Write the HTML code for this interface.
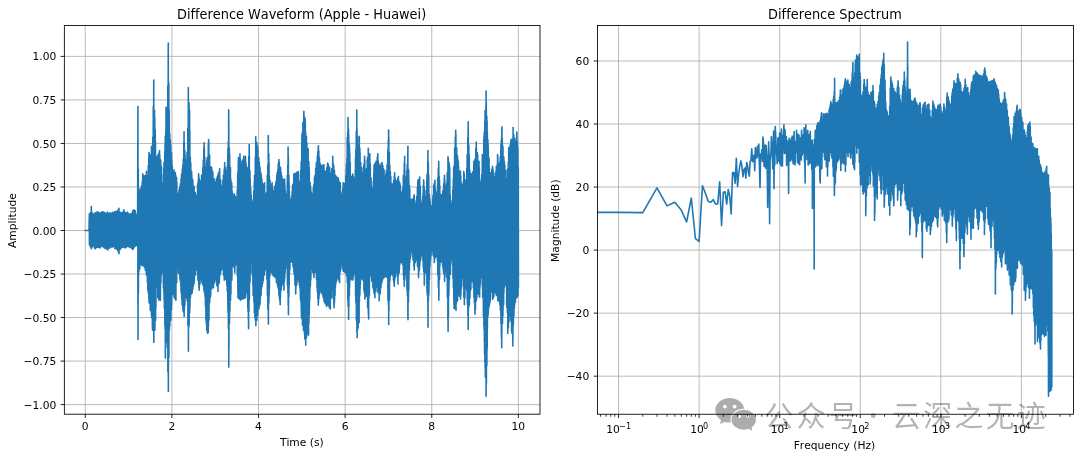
<!DOCTYPE html>
<html lang="zh"><head><meta charset="utf-8"><title>Difference Waveform / Spectrum</title><style>html,body{margin:0;padding:0;background:#fff}body{width:1080px;height:459px;overflow:hidden}</style></head><body>
<svg width="1080" height="459" viewBox="0 0 1080 459" style="display:block;will-change:transform">
<rect width="1080" height="459" fill="#fff"/>
<defs><clipPath id="c1"><rect x="64.35" y="25.5" width="475.65" height="388.70"/></clipPath><clipPath id="c2"><rect x="597.5" y="25.5" width="476.00" height="388.75"/></clipPath></defs>
<path d="M85.28 25.5V414.2M171.9 25.5V414.2M258.52 25.5V414.2M345.14 25.5V414.2M431.76 25.5V414.2M518.38 25.5V414.2M64.35 404.6H540M64.35 361.07H540M64.35 317.55H540M64.35 274.02H540M64.35 230.5H540M64.35 186.97H540M64.35 143.45H540M64.35 99.93H540M64.35 56.4H540" stroke="#b0b0b0" stroke-width="0.86" fill="none"/>
<path clip-path="url(#c1)" d="M85.28 230.5L89 230.5L89.3 216.66L89.4 241.73L89.32 213.96L89.42 245.05L89.8 215.24L89.9 243.65L90.3 213.04L90.4 244.92L90.33 212.71L90.43 247.06L90.8 212.45L90.9 247.11L91.3 206.62L91.4 248.5L91.33 206.44L91.43 248.81L91.8 212L91.9 247.77L92.3 213.9L92.4 246.33L92.33 213.21L92.43 246.13L92.58 213.57L92.68 246.3L92.8 213.48L92.9 245.52L93.3 213.86L93.4 244.42L93.8 213.95L93.9 245.85L94.3 214.01L94.4 247.86L94.8 215.58L94.9 247.33L95.09 212.71L95.19 248.81L95.3 214.03L95.4 248.64L95.8 215.27L95.9 245.7L96.3 212.51L96.4 247.41L96.8 212.21L96.9 247.38L97.3 213.25L97.4 247.17L97.59 211.7L97.69 247.06L97.8 211.81L97.9 246.3L98.3 213.08L98.4 247.33L98.8 213.12L98.9 245.89L99.3 214.93L99.4 247.38L99.8 214.02L99.9 246.01L100.1 212.71L100.2 248.06L100.3 213.63L100.4 246.84L100.8 212.78L100.9 246.79L101.3 212.23L101.4 245.84L101.8 212.28L101.9 244.43L102.3 213.55L102.4 244.89L102.61 211.7L102.71 246.55L102.8 212.45L102.9 245.82L103.3 211.98L103.4 246.88L103.8 214.4L103.9 247.54L104.3 212.56L104.4 247.84L104.8 212.98L104.9 248.17L105.11 212.71L105.21 248.81L105.3 213.71L105.4 247.01L105.8 214.81L105.9 246.8L106.3 213.95L106.4 247.64L106.8 214.22L106.9 249.11L107.3 212.35L107.4 249.14L107.62 212.21L107.72 250.06L107.8 213.33L107.9 249.39L108.3 214.82L108.4 248.56L108.8 213.3L108.9 246.89L109.3 214.18L109.4 248.32L109.8 213.12L109.9 247.48L110.13 213.21L110.23 247.56L110.3 213.65L110.4 246.01L110.8 213.1L110.9 246.02L111.3 214.83L111.4 245.66L111.8 213.21L111.9 247.13L112.3 215.15L112.4 246.92L112.63 212.21L112.73 247.06L112.8 213.55L112.9 246.77L113.3 213.57L113.4 245.73L113.8 213.62L113.9 245.12L114.3 212.05L114.4 246.62L114.8 212.65L114.9 248.56L115.14 211.7L115.24 248.81L115.3 212.41L115.4 246.79L115.8 211.53L115.9 246.56L116.3 214.17L116.4 248.14L116.8 211.35L116.9 249.21L117.14 212.63L117.24 250.06L117.3 211.36L117.4 248.79L117.64 210.7L117.74 248.48L117.8 212.12L117.9 250.8L118.3 209.55L118.4 252.25L118.8 211.14L118.9 253.61L118.9 208.2L119 253.82L119.3 212.37L119.4 249.69L119.8 212.42L119.9 249.15L120.15 212.21L120.25 249.56L120.3 212.49L120.4 249.36L120.8 214.96L120.9 248.26L121.3 213.68L121.4 246.38L121.8 212.84L121.9 246.41L122.16 212.71L122.26 247.51L122.3 213.94L122.4 246.72L122.66 213.13L122.76 247.06L122.8 212.3L122.9 245.6L123.3 211.58L123.4 246.5L123.8 210.27L123.9 247.29L123.91 209.7L124.01 244.97L124.3 213.01L124.4 246.83L124.8 212.21L124.9 246.22L125.16 213.06L125.26 248.06L125.3 212.62L125.4 247.9L125.66 212.71L125.76 247.39L125.8 212.68L125.9 247.57L126.3 213.2L126.4 247.04L126.8 212.44L126.9 246.68L127.3 212.42L127.4 245.87L127.67 212.21L127.77 246.3L127.8 213.85L127.9 245.81L128.3 213.45L128.4 244.71L128.8 214.06L128.9 246.86L129.3 215.58L129.4 247.03L129.8 214.24L129.9 245.41L130.18 213.96L130.28 247.56L130.3 215.31L130.4 246.86L130.8 213.74L130.9 247.67L131.3 213.58L131.4 247.31L131.8 213.85L131.9 248.55L132.3 213.88L132.4 246.87L132.68 210.7L132.78 249.56L132.8 213.48L132.9 248.86L133.3 210.21L133.4 248.75L133.8 211.97L133.9 245.75L133.93 209.7L134.03 247.48L134.3 210.16L134.4 246.01L134.8 211.26L134.9 244.73L135.19 210.7L135.29 246.3L135.3 211.07L135.4 244.22L135.8 214.08L135.9 245.09L136.3 216.1L136.4 243.76L136.44 214.71L136.54 245.55L136.8 216.03L136.9 245.49L137.3 214.35L137.4 245.36L137.44 213.96L137.54 246.3L137.8 140.77L137.9 303.77L137.94 106.44L138.04 339.54L138.3 168.72L138.4 293.36L138.45 191.4L138.55 275.13L138.8 193.65L138.9 271.73L139.3 191.46L139.4 268.82L139.7 190.54L139.8 268.86L139.8 195.57L139.9 263.07L140.2 188.9L140.3 262.11L140.3 195.19L140.4 263.87L140.8 190.23L140.9 263.29L141.3 189.34L141.4 264.64L141.45 186.39L141.55 265.1L141.8 187.8L141.9 265.27L142.3 181.65L142.4 261.26L142.71 173.86L142.81 264.91L142.8 181.43L142.9 265.65L143.3 177.06L143.4 265.02L143.8 183.23L143.9 265.22L143.96 175.81L144.06 266.35L144.3 178.59L144.4 267.37L144.46 176.37L144.56 267.2L144.8 183.68L144.9 263.66L145.21 175.61L145.31 270.11L145.3 180.78L145.4 267.27L145.8 178.14L145.9 269.66L146.3 177.47L146.4 273.72L146.47 171.35L146.57 275.13L146.8 181.55L146.9 273.97L147.3 176.4L147.4 281.92L147.72 176.37L147.82 290.16L147.8 175.65L147.9 290L148.3 165.45L148.4 293.52L148.8 157.01L148.9 298.82L148.97 152.56L149.07 302.69L149.3 162.73L149.4 301.59L149.8 154.67L149.9 303.95L150.23 155.06L150.33 310.21L150.3 158.57L150.4 307.6L150.8 156.87L150.9 311.11L151.3 154.65L151.4 313.47L151.48 146.29L151.58 317.73L151.8 157.63L151.9 316.63L152.3 146.68L152.4 326.63L152.48 148.38L152.58 330.26L152.73 140.03L152.83 326.71L152.8 137.14L152.9 328.28L153.3 106.38L153.4 327.9L153.73 80.13L153.83 342.54L153.8 98.54L153.9 327.81L154.3 117.8L154.4 323.33L154.49 110.2L154.59 324.33L154.74 117.41L154.84 330.26L154.8 134.02L154.9 328.44L155.24 129.75L155.34 314.87L155.3 144.36L155.4 320.86L155.49 141.78L155.59 320.24L155.8 156.05L155.9 308.05L156.3 156.63L156.4 287.44L156.49 161.33L156.59 282.64L156.8 160.07L156.9 281.59L157.3 159.43L157.4 285.95L157.74 157.58L157.84 297.68L157.8 156.84L157.9 297.29L157.99 155.06L158.09 292.62L158.3 154.24L158.4 290.41L158.8 158.3L158.9 299.72L159 152.9L159.1 300.19L159.3 158.23L159.4 298.64L159.5 150.55L159.6 296.69L159.8 154.99L159.9 299.39L160.25 167.06L160.35 300.19L160.3 161.31L160.4 296.74L160.75 160.08L160.85 282.81L160.8 166.53L160.9 282.99L161.25 170.08L161.35 275.13L161.3 166.43L161.4 273.62L161.5 167.59L161.6 267.76L161.8 174.48L161.9 263.87L162.26 190.13L162.36 261.34L162.3 192.62L162.4 262.41L162.76 196.42L162.86 268.02L162.8 195.32L162.9 272.47L163.26 184.38L163.36 287.66L163.3 183.15L163.4 285.71L163.8 168.63L163.9 292.74L164.01 162.58L164.11 300.19L164.3 165.82L164.4 308.29L164.76 151.7L164.86 325.25L164.8 159.24L164.9 324.33L165.01 145.04L165.11 329.39L165.26 136.28L165.36 358.08L165.3 144.53L165.4 357.25L165.8 130.59L165.9 342.43L166.02 107.19L166.12 342.53L166.3 115.87L166.4 338.88L166.77 117.54L166.87 330.26L166.8 116.87L166.9 329.03L167.27 107.69L167.37 343.07L167.3 116.38L167.4 347.78L167.8 86.02L167.9 372L168.27 43.03L168.37 391.42L168.3 66.37L168.4 366.58L168.8 83.05L168.9 357.47L169.27 110.2L169.37 330.26L169.3 126.86L169.4 326.45L169.77 134.01L169.87 325.87L169.8 135.29L169.9 318.46L170.3 139.85L170.4 313.14L170.78 145.04L170.88 320.24L170.8 146.62L170.9 311.85L171.3 155.7L171.4 309.75L171.53 152.56L171.63 305.2L171.8 159.65L171.9 295.69L172.28 165.93L172.38 290.16L172.3 168.13L172.4 287.95L172.78 172.61L172.88 289.33L172.8 172.87L172.9 284.76L173.3 173.78L173.4 294.49L173.8 171.04L173.9 295.2L174.04 170.1L174.14 297.68L174.3 177.88L174.4 287.37L174.8 173.81L174.9 297.59L175.29 172.61L175.39 299.36L175.3 176.32L175.4 296.52L175.79 175.5L175.89 300.19L175.8 175.75L175.9 299.27L176.3 178.29L176.4 281.16L176.54 177.62L176.64 282.64L176.8 182.2L176.9 272.64L177.29 194.59L177.39 266.35L177.3 193.33L177.4 261.63L177.79 198.92L177.89 268.31L177.8 198.99L177.9 265.05L178.3 199.13L178.4 266.36L178.55 193.94L178.65 272.62L178.8 192.18L178.9 273.69L179.05 190.15L179.15 271.92L179.3 189.04L179.4 273.8L179.8 192.48L179.9 278.88L179.8 187.37L179.9 273.54L180.3 185.15L180.4 281.67L180.3 183.88L180.4 281.38L180.8 183.84L180.9 286.66L181.05 178.55L181.15 292.67L181.3 178.4L181.4 293.06L181.55 173.86L181.65 298.23L181.8 174.28L181.9 300.18L182.06 176.12L182.16 305.2L182.3 168.93L182.4 305.22L182.8 171.62L182.9 301.06L182.81 165.09L182.91 309.41L183.06 167.08L183.16 311.47L183.3 158.93L183.4 307.66L183.8 141.99L183.9 312.81L184.06 131.75L184.16 316.48L184.3 142.9L184.4 309.87L184.8 157.56L184.9 301.12L184.81 150.32L184.91 305.2L185.06 155.06L185.16 289.5L185.3 162.03L185.4 287.26L185.31 165.12L185.41 295.18L185.8 171.68L185.9 293.19L185.81 162.58L185.91 293.6L186.3 159.61L186.4 296.39L186.32 166.8L186.42 297.68L186.8 160.97L186.9 299.1L187.07 152.56L187.17 300.19L187.3 154.85L187.4 301.26L187.8 131.5L187.9 317.78L187.82 128.09L187.92 325.25L188.3 104.26L188.4 332.86L188.32 87.64L188.42 351.32L188.8 107.3L188.9 327.03L189.07 102.82L189.17 325.25L189.3 118.53L189.4 307.91L189.57 110.2L189.67 313.12L189.8 134.84L189.9 305.2L189.82 130.95L189.92 307.71L190.3 158.72L190.4 288.25L190.33 157.57L190.43 297.68L190.8 162.85L190.9 288.4L191.3 176.01L191.4 293.74L191.58 171.35L191.68 294.04L191.8 175.12L191.9 290.41L192.08 178.47L192.18 292.67L192.3 181.71L192.4 282.37L192.8 181.81L192.9 289.06L192.83 180.13L192.93 287.17L193.3 189.24L193.4 285.75L193.8 186.72L193.9 284.06L194.09 186.39L194.19 282.64L194.3 192.03L194.4 281.18L194.8 196.38L194.9 271.82L195.3 192.81L195.4 271.26L195.34 192.66L195.44 275.13L195.8 198.82L195.9 267.99L196.3 201.31L196.4 266.64L196.59 197.67L196.69 270.11L196.8 195.22L196.9 266.63L197.3 195.36L197.4 269.29L197.59 185.14L197.69 274.41L197.8 183.39L197.9 278.14L197.84 185.68L197.94 280.14L198.3 179.74L198.4 275.98L198.6 173.86L198.7 284.33L198.8 175.87L198.9 287.55L199.1 184.48L199.2 290.16L199.3 179.1L199.4 283.45L199.6 180.13L199.7 284.99L199.8 181.6L199.9 280.64L199.85 184.33L199.95 283.9L200.3 184.84L200.4 274.43L200.35 185.14L200.45 279.76L200.8 182.91L200.9 278.47L200.85 185.95L200.95 278.88L201.3 180.15L201.4 278.96L201.6 175.11L201.7 273.64L201.8 182.92L201.9 281.59L201.85 181.24L201.95 282.64L202.3 179.3L202.4 275.59L202.8 169.16L202.9 285L202.86 167.59L202.96 285.15L203.3 160.07L203.4 280.59L203.8 149.5L203.9 289.58L203.86 147.82L203.96 290.16L204.11 142.78L204.21 284.26L204.3 147.12L204.4 292.37L204.8 157.32L204.9 291.26L204.86 166.97L204.96 296.43L205.3 169.8L205.4 299.77L205.36 167.59L205.46 306.22L205.8 171.12L205.9 315.34L205.86 166.52L205.96 320.24L206.3 167.05L206.4 323.63L206.62 162.99L206.72 330.26L206.8 164.57L206.9 317.17L206.87 160.08L206.97 317.79L207.3 159.75L207.4 329.45L207.37 157.24L207.47 333.27L207.8 158.3L207.9 327.35L208.12 156.51L208.22 332.77L208.3 144.35L208.4 326.49L208.62 139.52L208.72 310.17L208.8 142.83L208.9 318.54L208.87 156.92L208.97 320.24L209.3 161.8L209.4 298.53L209.62 155.06L209.72 302.69L209.8 168.83L209.9 293.12L210.3 166.19L210.4 297.21L210.38 166.34L210.48 290.37L210.63 170.18L210.73 295.18L210.8 175.69L210.9 286.29L211.3 167.35L211.4 281.65L211.63 167.59L211.73 288.91L211.8 172.9L211.9 279.78L212.3 170.44L212.4 287.07L212.8 173.35L212.9 284.6L212.88 172.61L212.98 287.1L213.3 182.08L213.4 287.5L213.38 181L213.48 287.66L213.8 183.63L213.9 280.19L214.14 178.87L214.24 278.03L214.3 184.24L214.4 283.06L214.39 186L214.49 282.64L214.8 185.33L214.9 280.1L215.3 187.23L215.4 277.99L215.39 182.63L215.49 278.88L215.8 181.63L215.9 274.12L216.3 184.61L216.4 278.09L216.39 178.87L216.49 282.26L216.64 185.62L216.74 285.15L216.8 181.73L216.9 279.18L217.3 178.23L217.4 286.46L217.39 176.37L217.49 282.16L217.8 175.69L217.9 284.25L217.89 178.15L217.99 291.42L218.3 173.9L218.4 280.69L218.65 172.61L218.75 284.03L218.8 176.11L218.9 279.41L219.15 177.62L219.25 282.64L219.3 171.6L219.4 280.02L219.65 168.85L219.75 276.12L219.8 176.2L219.9 274.49L220.3 180.66L220.4 271.81L220.4 185.19L220.5 273.87L220.65 180.13L220.75 266.23L220.8 183.7L220.9 266.01L221.3 190.65L221.4 270.45L221.4 192.88L221.5 270.11L221.65 190.15L221.75 267.07L221.8 192.62L221.9 268.85L222.3 185.68L222.4 263.43L222.41 187.18L222.51 267.61L222.8 186.33L222.9 266.7L222.91 180.13L223.01 266.45L223.3 181.59L223.4 271.54L223.41 175.13L223.51 275.13L223.8 180.1L223.9 272.1L224.16 170.82L224.26 280.14L224.3 168.89L224.4 273.09L224.66 162.58L224.76 278.41L224.8 167.67L224.9 273.9L225.16 172.75L225.26 278.88L225.3 167.62L225.4 277.25L225.66 170.1L225.76 276.85L225.8 174.76L225.9 277.39L226.17 180.94L226.27 278.88L226.3 173.35L226.4 279.51L226.67 175.11L226.77 282.87L226.8 177.72L226.9 285.71L227.17 171.71L227.27 290.16L227.3 165.82L227.4 291.29L227.67 160.08L227.77 300.08L227.8 154.79L227.9 307.22L227.92 148.63L228.02 312.72L228.3 141.83L228.4 328.74L228.67 109.7L228.77 367.11L228.8 121.14L228.9 349.63L229.3 147.74L229.4 323.66L229.42 151.98L229.52 320.24L229.67 155.06L229.77 303.7L229.8 165.67L229.9 310.89L230.3 168.8L230.4 298.39L230.43 167.59L230.53 300.19L230.8 179.01L230.9 293.94L231.3 182.76L231.4 277.8L231.68 182.63L231.78 280.14L231.8 185.77L231.9 277.4L232.3 191.62L232.4 266.55L232.8 195.3L232.9 259.46L232.93 195.16L233.03 261.34L233.3 196.14L233.4 258.99L233.8 196.14L233.9 266.61L233.93 197.98L234.03 267.61L234.19 193.91L234.29 265.3L234.3 195.28L234.4 264.49L234.69 199.19L234.79 272.62L234.8 196.47L234.9 268.42L235.3 200.41L235.4 265.09L235.44 196.42L235.54 262.71L235.69 199.24L235.79 262.59L235.8 201.33L235.9 257.38L236.3 200.75L236.4 254.25L236.44 202.56L236.54 256.33L236.69 202.68L236.79 258.03L236.8 201.88L236.9 265.21L237.19 191.67L237.29 275.13L237.3 189.82L237.4 275.92L237.69 175.11L237.79 283.94L237.8 176.77L237.9 291.72L237.94 171.94L238.04 297.68L238.3 161.85L238.4 289.95L238.45 157.57L238.55 298.11L238.8 158.56L238.9 296.83L239.2 159.07L239.3 298.93L239.3 167.43L239.4 290.42L239.8 156.74L239.9 297.99L239.95 153.81L240.05 291.42L240.3 159.12L240.4 298.69L240.45 162.74L240.55 300.19L240.8 170.57L240.9 295.27L240.95 161.33L241.05 293.83L241.3 165.57L241.4 290.25L241.7 165.09L241.8 298.93L241.8 173.38L241.9 297.56L242.3 165.91L242.4 291.89L242.71 160.08L242.81 293.39L242.8 159.95L242.9 296.31L242.96 168.35L243.06 298.93L243.3 159.89L243.4 289.45L243.71 156.32L243.81 294.88L243.8 157.47L243.9 288.9L244.21 160.15L244.31 298.18L244.3 165.91L244.4 297.41L244.71 157.57L244.81 290.77L244.8 161.23L244.9 296.12L245.3 164.55L245.4 292.93L245.46 156.32L245.56 297.68L245.8 161.94L245.9 294.86L246.22 167.43L246.32 292.67L246.3 164.81L246.4 285.81L246.72 167.59L246.82 288.81L246.8 174.02L246.9 287.54L246.97 175.74L247.07 287.66L247.3 171.22L247.4 287.32L247.72 179.32L247.82 307.71L247.8 180.76L247.9 305.45L247.97 175.11L248.07 311.72L248.3 167.22L248.4 319.52L248.47 168.99L248.57 328.76L248.8 156.34L248.9 311.47L249.22 144.54L249.32 300.19L249.3 150.35L249.4 297.43L249.8 170.35L249.9 282.76L249.97 172.47L250.07 280.14L250.23 180.13L250.33 274.01L250.3 184.22L250.4 271.1L250.48 187.56L250.58 272.62L250.75 188.49L250.85 260.04L250.8 194.9L250.9 255.58L251.25 195.24L251.35 253.77L251.3 196.52L251.4 251.47L251.8 199.8L251.9 263.74L252.26 202.48L252.36 275.08L252.3 203.94L252.4 275.15L252.8 208.91L252.9 285.98L253.01 207.77L253.11 295.13L253.3 201.83L253.4 294.13L253.8 190.92L253.9 301.85L254.26 182.07L254.36 312.67L254.3 185.23L254.4 310.71L254.51 175.19L254.61 304.62L254.8 175.46L254.9 317.31L255.3 157.81L255.4 319.98L255.76 136.84L255.86 325.7L255.8 147.1L255.9 323.52L256.3 149.34L256.4 309.18L256.77 142.61L256.87 320.19L256.8 144.6L256.9 317.63L257.3 149.22L257.4 310.63L257.52 146.37L257.62 315.18L257.8 149.59L257.9 304.7L258.3 157.01L258.4 308.2L258.77 157.64L258.87 308.91L258.8 158.45L258.9 298.94L259.3 162.43L259.4 306.28L259.8 166.62L259.9 304.6L260.03 167.67L260.13 303.9L260.3 178.55L260.4 297.56L260.8 172.36L260.9 287.37L261.03 174.4L261.13 295.13L261.28 175.19L261.38 288.7L261.3 178.22L261.4 288.99L261.8 178.86L261.9 283.02L262.03 182.93L262.13 286.35L262.3 182.85L262.4 283.3L262.53 183.96L262.63 283.61L262.8 189.06L262.9 281.75L263.28 184.08L263.38 280.09L263.3 187.13L263.4 276L263.8 185.13L263.9 272.15L264.29 184.92L264.39 275.08L264.3 188.48L264.4 268.92L264.54 182.71L264.64 272.18L264.8 191.76L264.9 266.51L265.29 195.67L265.39 270.06L265.3 193.85L265.4 267.43L265.8 195.41L265.9 262.56L266.29 200.25L266.39 263.8L266.3 202.29L266.4 261.11L266.8 192.19L266.9 279.22L267.29 175.19L267.39 295.13L267.3 183.2L267.4 293.11L267.8 165.23L267.9 309.43L268.3 135.59L268.4 323.95L268.3 138.43L268.4 318.82L268.8 153.81L268.9 303.02L269.05 162.66L269.15 295.13L269.3 175.96L269.4 288.42L269.8 184.44L269.9 276.3L270.05 180.2L270.15 270.06L270.3 184.86L270.4 269.44L270.8 185.55L270.9 269.17L271.3 185.12L271.4 271.91L271.3 189.01L271.4 272.57L271.8 186.04L271.9 271.8L272.06 182.71L272.16 269.18L272.3 187.13L272.4 274.51L272.56 186.23L272.66 275.08L272.8 192.12L272.9 268.25L273.3 195.04L273.4 272.79L273.31 191.48L273.41 274.26L273.8 195.16L273.9 275.49L273.81 194.3L273.91 276.33L274.3 189.95L274.4 275.46L274.8 187.37L274.9 271.43L275.06 186.47L275.16 277.58L275.3 185.41L275.4 273.18L275.8 182.71L275.9 276.17L276.3 180.48L276.4 282.51L276.32 185.38L276.42 282.59L276.8 175.84L276.9 278.65L277.07 172.68L277.17 280.05L277.3 176.3L277.4 284L277.57 176.72L277.67 286.35L277.8 169.83L277.9 287.09L278.3 163.53L278.4 288.75L278.8 167.71L278.9 294.57L278.82 159.65L278.92 295.13L279.3 162.42L279.4 298.48L279.8 171.71L279.9 301.68L280.08 171.3L280.18 304.65L280.3 167.41L280.4 297.38L280.58 167.67L280.68 291.62L280.8 178.01L280.9 287.74L281.08 172.13L281.18 290.11L281.3 177.68L281.4 287.08L281.8 175.73L281.9 278L282.08 183.36L282.18 280.09L282.3 178.78L282.4 280.05L282.58 180.2L282.68 280.09L282.8 180.12L282.9 283.36L283.08 183.19L283.18 285.1L283.3 186.08L283.4 281.82L283.8 179.64L283.9 283.81L283.83 180.59L283.93 290.11L284.3 184.62L284.4 281.53L284.59 178.95L284.69 278.84L284.8 183.36L284.9 273.82L285.09 189.65L285.19 272.57L285.3 191.17L285.4 264.32L285.8 200.67L285.9 263.98L286.3 204.11L286.4 254.21L286.34 204.01L286.44 257.53L286.8 194.03L286.9 268.86L287.3 181.95L287.4 278.62L287.34 175.19L287.44 285.1L287.8 165.29L287.9 292.85L288.1 147.12L288.2 305.37L288.3 157.69L288.4 306.81L288.35 156.53L288.45 314.67L288.8 182.06L288.9 296.44L288.85 175.19L288.95 291.53L289.1 182.59L289.2 285.1L289.3 191.59L289.4 274.33L289.6 195.24L289.7 269.06L289.8 197.73L289.9 269.24L290.1 201.3L290.2 262.54L290.3 199.31L290.4 259.5L290.8 200.29L290.9 261.97L291.1 201.42L291.2 262.04L291.3 201.41L291.4 259.02L291.35 201.5L291.45 260.88L291.8 196.48L291.9 259.74L292.11 192.18L292.21 261.29L292.3 189.3L292.4 259.91L292.61 185.21L292.71 262.49L292.8 184.22L292.9 265.54L293.11 185.76L293.21 267.56L293.3 186.28L293.4 264.02L293.8 175.75L293.9 267.9L293.86 173.93L293.96 272.57L294.3 176.99L294.4 274.73L294.8 173.65L294.9 280.56L294.86 173.84L294.96 285.1L295.3 180.84L295.4 284.19L295.61 176.06L295.71 293.87L295.8 179.61L295.9 288.79L296.3 172.87L296.4 284.91L296.37 172.68L296.47 282.4L296.62 179.99L296.72 285.1L296.8 179.91L296.9 283.69L297.3 172.1L297.4 279.77L297.62 175.43L297.72 277.58L297.8 173.89L297.9 272.19L298.3 177.73L298.4 275.32L298.37 171.43L298.47 275.22L298.62 174.64L298.72 281.34L298.8 181.33L298.9 281.96L299.3 181.39L299.4 281.98L299.37 181.8L299.47 285.1L299.8 189.95L299.9 287.95L300.13 185.21L300.23 291.08L300.3 181.35L300.4 296.49L300.38 181.58L300.48 300.14L300.8 170.61L300.9 301.44L301.13 162.66L301.23 308.82L301.3 161.42L301.4 313.52L301.38 164.94L301.48 317.68L301.8 144.54L301.9 312.45L301.88 135.09L301.98 318.83L302.3 132.8L302.4 318.01L302.38 135.84L302.48 325.2L302.8 134.74L302.9 317.17L302.88 122.56L302.98 324.14L303.3 130.82L303.4 324.54L303.38 124.34L303.48 330.21L303.8 113.9L303.9 323.13L303.88 111.28L303.98 323.29L304.3 120.19L304.4 333.27L304.64 117.03L304.74 338.98L304.8 125.64L304.9 335.81L305.14 118.8L305.24 324.57L305.3 121.94L305.4 327.85L305.64 132.55L305.74 345.25L305.8 138.37L305.9 329.92L306.3 138.97L306.4 331.7L306.39 136.34L306.49 337.73L306.8 142.58L306.9 334.27L307.14 147.38L307.24 332.72L307.3 150.82L307.4 321.29L307.8 152.03L307.9 333.14L308.15 148.87L308.25 332.73L308.3 161.09L308.4 327.74L308.4 164.5L308.5 335.23L308.8 161.5L308.9 323.59L309.15 167.67L309.25 315.18L309.3 170.65L309.4 308L309.65 182.11L309.75 300.14L309.8 184.82L309.9 290.16L310.15 182.71L310.25 286.89L310.3 185.26L310.4 285.14L310.65 187.06L310.75 280.09L310.8 189.79L310.9 277.42L311.3 196.87L311.4 266.18L311.4 192.22L311.5 267.56L311.8 195.48L311.9 263.8L312.16 197.74L312.26 269.15L312.3 198.53L312.4 265.24L312.66 197.12L312.76 272.57L312.8 193.8L312.9 266.93L313.3 187.93L313.4 268.85L313.8 184.72L313.9 276.69L313.91 189.68L314.01 277.58L314.3 184.07L314.4 271.37L314.41 177.69L314.51 270.88L314.8 181.25L314.9 267.88L314.91 175.5L315.01 272.57L315.3 177.6L315.4 268.31L315.66 168.31L315.76 268.81L315.8 175.5L315.9 265.65L316.3 164.23L316.4 271.8L316.42 162.66L316.52 279.58L316.8 165.56L316.9 279.84L316.92 162.63L317.02 287.61L317.3 156.06L317.4 292.18L317.8 151.73L317.9 298.99L318.17 149.97L318.27 305.15L318.3 147.04L318.4 302.12L318.42 145.86L318.52 301.27L318.8 150.92L318.9 298.52L319.17 158.54L319.27 295.13L319.3 158.72L319.4 287.52L319.42 157.64L319.52 293.84L319.8 162.44L319.9 288.69L320.18 163.91L320.28 290.11L320.3 166.03L320.4 290.32L320.8 171.3L320.9 290.11L321.18 165.99L321.28 292.62L321.3 167.42L321.4 282.89L321.8 171.94L321.9 285.51L321.93 165.16L322.03 292.85L322.18 173.84L322.28 293.87L322.3 174.28L322.4 291.23L322.8 166.76L322.9 295.45L323.18 171.48L323.28 297.63L323.3 166.16L323.4 288.61L323.8 165.24L323.9 291.49L323.93 164.66L324.03 301.39L324.3 171.13L324.4 301.94L324.8 177.58L324.9 293.19L325.19 170.93L325.29 303.9L325.3 176.64L325.4 299.81L325.69 172.68L325.79 303.63L325.8 172.6L325.9 300.33L326.3 179.1L326.4 299.09L326.44 174.81L326.54 306.4L326.8 167.87L326.9 303.43L327.3 174.06L327.4 303.85L327.44 164.7L327.54 305.15L327.69 163.16L327.79 305.02L327.8 165.45L327.9 303.61L328.2 173.91L328.3 305.15L328.3 164.58L328.4 305.4L328.8 174.78L328.9 299.1L329.2 171.44L329.3 307.66L329.3 166.95L329.4 304.6L329.7 167.67L329.8 302.57L329.8 171.37L329.9 307.12L330.2 174.73L330.3 308.91L330.3 177.27L330.4 300.43L330.8 179.3L330.9 294.95L330.95 175.19L331.05 296.59L331.2 173.08L331.3 297.63L331.3 178.39L331.4 287.84L331.8 168.82L331.9 285.57L331.95 171.77L332.05 287.61L332.3 170.15L332.4 289.66L332.71 156.39L332.81 285.65L332.8 158.82L332.9 290.62L332.96 162.09L333.06 297.63L333.3 171.68L333.4 299.31L333.71 165.16L333.81 293.52L333.8 168.13L333.9 305.64L333.96 176.12L334.06 307.66L334.3 171.64L334.4 302.98L334.46 170.18L334.56 300.45L334.8 177.48L334.9 290.03L334.96 174.78L335.06 295.13L335.3 175.57L335.4 287.81L335.71 176.26L335.81 283.85L335.8 176.92L335.9 276.87L336.3 176.38L336.4 281.46L336.47 176.44L336.57 279.45L336.72 182.26L336.82 280.09L336.8 180.33L336.9 275.38L337.3 181.75L337.4 274.09L337.72 183.45L337.82 277.58L337.8 178.33L337.9 277.76L338.22 177.69L338.32 274.64L338.3 179.13L338.4 274.04L338.72 180.33L338.82 280.09L338.8 184.59L338.9 275.54L339.3 182.23L339.4 281.86L339.47 182.29L339.57 282.59L339.8 185.61L339.9 273.3L340.23 182.71L340.33 269.93L340.3 183.93L340.4 271.37L340.48 190.11L340.58 270.06L340.8 194.42L340.9 264.56L341.23 196.64L341.33 262.54L341.3 199.42L341.4 259.55L341.48 199L341.58 262.74L341.8 197.43L341.9 261.35L342.23 194.72L342.33 267.56L342.3 192.17L342.4 265.74L342.8 188.17L342.9 269.49L343.23 182.71L343.33 271.32L343.3 186.21L343.4 268.63L343.8 183.52L343.9 270.99L344.24 187.82L344.34 272.07L344.3 183.54L344.4 268.35L344.8 190.84L344.9 271.04L345.24 183.96L345.34 272.57L345.3 183.94L345.4 271.14L345.8 175.77L345.9 267.61L346.24 177.81L346.34 275.08L346.3 168.53L346.4 268.28L346.49 163.91L346.59 275.8L346.8 165.31L346.9 272.26L346.99 158.83L347.09 277.58L347.24 137.59L347.34 282.69L347.3 141.76L347.4 282.24L347.74 132.16L347.84 300.14L347.8 132.89L347.9 300.36L347.99 117.54L348.09 306.16L348.3 127.84L348.4 305.86L348.5 129.24L348.6 319.44L348.75 135.09L348.85 306.78L348.8 142.14L348.9 307.23L349.25 143.73L349.35 295.13L349.3 145.56L349.4 285.05L349.5 147.62L349.6 287.55L349.8 153.87L349.9 281.49L350.25 162.72L350.35 278.83L350.3 173.19L350.4 273.11L350.8 176.26L350.9 278.11L351 177.69L351.1 279.11L351.3 182.16L351.4 276.96L351.5 176.63L351.6 279.59L351.8 177.04L351.9 279.68L352.3 183.29L352.4 272.93L352.76 173.93L352.86 280.09L352.8 178.67L352.9 277.71L353.3 176.22L353.4 276.32L353.76 179.21L353.86 273.82L353.8 177.89L353.9 270.93L354.3 180.56L354.4 270.65L354.76 181.45L354.86 268.81L354.8 180.62L354.9 264.26L355.3 169.95L355.4 279.48L355.51 158.33L355.61 295.13L355.76 150.13L355.86 298.95L355.8 159.93L355.9 302.71L356.27 133.2L356.37 320.19L356.3 131.83L356.4 320.14L356.77 110.03L356.87 324.03L356.8 124.79L356.9 332.38L357.02 129.12L357.12 337.73L357.3 136.11L357.4 324.8L357.52 137.59L357.62 329.44L357.77 145.11L357.87 320.92L357.8 146.75L357.9 318.95L358.02 149.85L358.12 327.71L358.3 155.17L358.4 318.9L358.8 149.9L358.9 312.17L359.02 145.41L359.12 322.69L359.27 136.34L359.37 301.65L359.3 136.95L359.4 301.38L359.77 158.41L359.87 295.13L359.8 147.98L359.9 293.26L360.03 152.63L360.13 288.4L360.3 163.15L360.4 284.8L360.78 162.66L360.88 277.58L360.8 170.33L360.9 271.46L361.3 168.45L361.4 278.21L361.78 168.42L361.88 278.83L361.8 167.84L361.9 273.73L362.3 177.84L362.4 278.66L362.78 172.68L362.88 280.09L362.8 173.63L362.9 272.69L363.3 175.95L363.4 279.43L363.78 166.12L363.88 290.11L363.8 165.1L363.9 289.77L364.3 162.72L364.4 293.19L364.54 156.39L364.64 286.4L364.79 162.27L364.89 298.88L364.8 160.05L364.9 298.65L365.3 170.42L365.4 291.22L365.79 172.43L365.89 296.38L365.8 176.99L365.9 289.91L366.04 171.43L366.14 293.87L366.3 170.84L366.4 294.19L366.54 168.43L366.64 293.87L366.8 174.19L366.9 295.71L367.29 160.15L367.39 294.8L367.3 160.41L367.4 294.37L367.54 157.32L367.64 307.66L367.8 166.23L367.9 302.26L368.3 148.37L368.4 314.94L368.3 148.55L368.4 313.27L368.55 154.04L368.65 318.93L368.8 154.82L368.9 298.3L369.3 155.65L369.4 295.13L369.3 163.7L369.4 288.02L369.8 153.88L369.9 276.15L369.8 154.44L369.9 275.34L370.3 164.03L370.4 271.5L370.3 166.2L370.4 272.57L370.8 179.91L370.9 273.81L371.05 177.69L371.15 274.72L371.3 186.3L371.4 276.15L371.55 188.38L371.65 280.09L371.8 189.55L371.9 281.54L372.3 200.44L372.4 278.76L372.31 196.49L372.41 279.57L372.8 191.67L372.9 280.53L372.81 188.13L372.91 287.61L373.3 181.41L373.4 288.97L373.8 179.16L373.9 288L373.81 173.49L373.91 292.62L374.06 165.16L374.16 290.59L374.3 167.67L374.4 294.14L374.8 169.5L374.9 292.65L374.81 163.9L374.91 297.63L375.3 164.21L375.4 286.29L375.8 161.93L375.9 283.14L375.81 166.23L375.91 291.37L376.07 161.4L376.17 288.01L376.3 164.41L376.4 279.94L376.57 161.09L376.67 285.1L376.8 164.41L376.9 279.46L377.3 156.97L377.4 287.19L377.8 164.54L377.9 290.98L377.82 153.88L377.92 292.62L378.3 161.05L378.4 287.22L378.8 163.76L378.9 289.25L379.07 170.68L379.17 300.64L379.3 165.08L379.4 290.13L379.57 165.16L379.67 294.74L379.8 166.55L379.9 292.6L380.08 171.1L380.18 293.87L380.3 166.48L380.4 290.97L380.8 168.92L380.9 286.56L380.83 173.4L380.93 287.61L381.3 163.57L381.4 284.08L381.8 170.78L381.9 279.65L381.83 167.22L381.93 282.59L382.08 162.66L382.18 276.01L382.3 165.7L382.4 280.24L382.8 165.55L382.9 276.66L382.83 166.84L382.93 278.83L383.3 172.21L383.4 277.97L383.8 169.41L383.9 275.88L384.09 170.18L384.19 277.58L384.3 180.2L384.4 274.31L384.8 182.57L384.9 270.61L385.3 183.53L385.4 271.26L385.34 176.44L385.44 276.33L385.8 174.16L385.9 271.06L386.3 179.47L386.4 274.01L386.34 170.88L386.44 277.08L386.8 175.27L386.9 276.83L387.09 165.16L387.19 275.02L387.3 166.47L387.4 273.15L387.34 164.39L387.44 277.58L387.8 152.16L387.9 290.3L387.84 150.13L387.94 300.14L388.3 140.3L388.4 304.61L388.6 130.08L388.7 324.45L388.8 136.87L388.9 310.22L389.3 160.28L389.4 292.75L389.35 152.63L389.45 300.14L389.8 165.61L389.9 281.1L389.85 166.42L389.95 280.59L390.3 172.21L390.4 272.07L390.35 171.89L390.45 276.33L390.8 176.64L390.9 272.78L391.3 184.45L391.4 274.16L391.35 183.61L391.45 274.57L391.6 183.96L391.7 268.21L391.8 184.52L391.9 273.24L392.3 187.54L392.4 268.34L392.36 184.6L392.46 272.57L392.8 185.02L392.9 275.85L393.3 185.16L393.4 272.75L393.36 182.71L393.46 280.09L393.8 180.18L393.9 282.58L394.11 181.94L394.21 286.35L394.3 176.7L394.4 278.7L394.61 172.68L394.71 280.35L394.8 175.88L394.9 277.39L395.11 178.37L395.21 277.58L395.3 183.27L395.4 272.5L395.8 183.2L395.9 269.92L396.12 180.43L396.22 268.81L396.3 181.52L396.4 266.74L396.62 182.71L396.72 268.44L396.8 182.09L396.9 273.07L397.12 182.23L397.22 276.33L397.3 187.81L397.4 271.86L397.8 178.5L397.9 275.53L397.87 178.77L397.97 283.85L398.3 177.54L398.4 272.97L398.37 176.44L398.47 274.7L398.8 181.03L398.9 272.08L399.12 183.43L399.22 272.57L399.3 181.94L399.4 269.6L399.8 182.97L399.9 264.5L400.3 190.21L400.4 261.45L400.38 185.21L400.48 261.29L400.8 191.09L400.9 260.01L401.3 192.13L401.4 262.42L401.38 194.81L401.48 262.54L401.8 198.19L401.9 262.28L402.13 197.74L402.23 260.82L402.3 199.29L402.4 259.81L402.38 194.69L402.48 263.8L402.8 188.31L402.9 265.22L403.3 177.02L403.4 270.78L403.38 175.19L403.48 275.08L403.8 175.55L403.9 279.45L404.14 170.57L404.24 286.35L404.3 162.88L404.4 276.55L404.64 156.39L404.74 280.09L404.8 168.79L404.9 278.87L405.14 176.43L405.24 275.08L405.3 181.79L405.4 267.27L405.39 182.71L405.49 268.22L405.8 194.45L405.9 261.05L405.89 196.49L405.99 263.8L406.3 190.09L406.4 268.5L406.8 176.03L406.9 286.59L406.89 170.18L406.99 290.11L407.3 164.08L407.4 295.85L407.8 152.77L407.9 315.51L407.89 146.37L407.99 319.69L408.3 169.26L408.4 302.17L408.65 170.18L408.75 290.11L408.8 178.55L408.9 279.5L409.3 185.22L409.4 270.3L409.4 185.21L409.5 263.3L409.65 194.04L409.75 262.54L409.8 189.26L409.9 258.33L410.3 199.98L410.4 258.46L410.65 200.21L410.75 256.28L410.8 199.33L410.9 253.13L410.9 200.25L411 251.43L411.3 199.97L411.4 251.24L411.65 201.63L411.75 251.27L411.8 199.9L411.9 252.24L412.3 200.21L412.4 252.38L412.41 199L412.51 253.11L412.8 200.47L412.9 256.99L412.91 201.68L413.01 260.04L413.3 201.71L413.4 260.08L413.8 196.66L413.9 266.47L414.16 194.74L414.26 270.06L414.3 195.78L414.4 265.45L414.8 200.61L414.9 263.06L415.16 206.45L415.26 262.54L415.3 203.38L415.4 261.52L415.8 209.98L415.9 257.39L415.91 207.77L416.01 253.69L416.17 204.99L416.27 255.03L416.3 205.55L416.4 256.15L416.8 196.47L416.9 260.14L417.3 194.38L417.4 263.16L417.42 187.26L417.52 266.3L417.8 182.17L417.9 265.32L417.92 180.2L418.02 266.7L418.3 181.95L418.4 269.24L418.42 179.73L418.52 277.58L418.8 181.62L418.9 272.15L419.3 179.01L419.4 269.55L419.42 180.87L419.52 268.81L419.67 176.94L419.77 265.98L419.8 185.43L419.9 262.77L420.3 186.66L420.4 260.47L420.43 191.57L420.53 260.04L420.8 199.91L420.9 257.77L421.3 203.36L421.4 254.57L421.43 206.79L421.53 255.03L421.68 207.77L421.78 250.8L421.8 209.27L421.9 251.4L422.18 202.87L422.28 251.27L422.3 203.29L422.4 252.57L422.8 196.37L422.9 260.97L423.18 192.39L423.28 267.56L423.3 185.18L423.4 265.42L423.68 179.7L423.78 271.71L423.8 181.91L423.9 270.73L424.19 187.26L424.29 285.1L424.3 189.06L424.4 283.03L424.8 196.99L424.9 273.85L425.19 201.93L425.29 272.57L425.3 205.19L425.4 268.78L425.44 202.76L425.54 267.5L425.8 196.6L425.9 262.59L426.19 190.42L426.29 260.04L426.3 192.12L426.4 260.78L426.8 181.24L426.9 284.06L426.94 175.19L427.04 292.62L427.3 173.22L427.4 295.45L427.8 160.65L427.9 312.22L427.94 150.63L428.04 327.21L428.3 162.51L428.4 300.92L428.7 175.19L428.8 295.13L428.8 184.89L428.9 292.3L429.3 194.18L429.4 279.51L429.45 195.24L429.55 273.11L429.8 198.93L429.9 267.22L429.95 199.53L430.05 265.05L430.3 202.58L430.4 260.28L430.8 205.44L430.9 256.2L430.95 208.3L431.05 255.03L431.3 207.31L431.4 251.51L431.7 209.02L431.8 247.51L431.8 209.62L431.9 247.56L432.3 205.76L432.4 250.06L432.8 199.29L432.9 250.67L432.96 196.02L433.06 255.03L433.3 194.83L433.4 253.98L433.71 185.21L433.81 256.44L433.8 191.76L433.9 255.67L434.21 184.34L434.31 262.54L434.3 183.2L434.4 260.98L434.8 186.86L434.9 255.79L434.96 180.2L435.06 258.07L435.3 189.43L435.4 254.1L435.46 188.66L435.56 257.53L435.8 191.01L435.9 256.46L436.3 193.73L436.4 251.7L436.72 197.74L436.82 253.77L436.8 196.17L436.9 254.09L437.3 192.82L437.4 261L437.72 177.69L437.82 275.08L437.8 177.83L437.9 269.99L438.3 168.71L438.4 287.23L438.72 161.4L438.82 300.14L438.8 166.93L438.9 296.58L439.3 176.24L439.4 279.67L439.47 180.2L439.57 277.58L439.8 185.99L439.9 266L440.3 194.17L440.4 262.03L440.48 195.24L440.58 258.78L440.8 200.01L440.9 259.56L441.3 198.83L441.4 259.13L441.48 194.98L441.58 262.04L441.8 196.32L441.9 261.28L442.3 196.11L442.4 261.89L442.48 193.98L442.58 265.05L442.8 191.16L442.9 267.43L443.3 188.89L443.4 270.4L443.48 191.01L443.58 272.57L443.8 183.59L443.9 273.97L444.3 178.08L444.4 272.46L444.49 175.19L444.59 281.34L444.8 179.84L444.9 277.02L445.3 190.06L445.4 272.18L445.49 185.39L445.59 270.06L445.8 188.96L445.9 265.89L446.24 192.73L446.34 262.54L446.3 195.29L446.4 262.85L446.8 182.79L446.9 277.46L447.24 172.68L447.34 295.13L447.3 179.46L447.4 297.81L447.8 171.06L447.9 320.02L447.99 156.89L448.09 331.47L448.3 158.65L448.4 316.66L448.75 163.89L448.85 295.13L448.8 171.94L448.9 290.47L449 162.66L449.1 283.31L449.3 164.83L449.4 279.74L449.75 167.67L449.85 270.06L449.8 178.79L449.9 268.17L450.19 196.96L450.29 274.29L450.27 195.14L450.37 271.71L450.3 199.85L450.4 272.34L450.8 202.75L450.9 264.34L451.3 203.31L451.4 252.84L451.71 205.37L451.81 249.52L451.8 208.29L451.9 251.53L451.96 206.96L452.06 253.8L452.3 200.32L452.4 259.98L452.8 194.44L452.9 273.24L452.86 189.27L452.96 278.1L453.3 179.41L453.4 287.45L453.65 168.11L453.75 297.69L453.8 166.67L453.9 303.21L454 172.18L454.1 308.57L454.3 165.59L454.4 304.97L454.66 147.84L454.76 308.61L454.8 148L454.9 298.87L455.3 137.46L455.4 297.45L455.68 130.27L455.78 300.84L455.8 133.68L455.9 308.74L455.9 134.25L456 310.48L456.3 153.1L456.4 303.29L456.69 147.84L456.79 300.22L456.8 156.13L456.9 295.08L457.3 161.63L457.4 290.91L457.43 155.34L457.53 300.95L457.7 157.97L457.8 296.93L457.8 162.53L457.9 293.6L458.3 161.08L458.4 294.69L458.57 166.22L458.67 293.33L458.8 170.24L458.9 293.83L459.3 171.46L459.4 295.13L459.8 173.27L459.9 296.57L460.3 171.05L460.4 296.72L460.41 171.49L460.51 296.95L460.48 180.13L460.58 299.05L460.8 175.81L460.9 294.94L461.3 183.55L461.4 288.81L461.8 185.51L461.9 278.68L462.09 188.38L462.19 275.29L462.3 186.83L462.4 272.69L462.38 187.4L462.48 276.19L462.8 184.51L462.9 277.99L463.3 181.61L463.4 286.07L463.78 171.49L463.88 290.42L463.8 177.52L463.9 297.23L464.29 175.5L464.39 304.76L464.3 173.89L464.4 297.02L464.8 181.04L464.9 297.67L465.3 186.04L465.4 288.75L465.8 180.15L465.9 285.4L466.15 181.62L466.25 280.05L466.19 181.1L466.29 281.9L466.3 180.23L466.4 279.49L466.8 168.26L466.9 291.07L467.16 154.59L467.26 299.72L467.3 162.79L467.4 295.59L467.33 156.49L467.43 304.76L467.8 137.77L467.9 315.75L468.1 134.69L468.2 329.52L468.18 121.82L468.28 318.81L468.3 130.29L468.4 310.39L468.8 145.14L468.9 307L469.19 154.59L469.29 295.53L469.24 157.6L469.34 304.76L469.3 158.76L469.4 297.09L469.8 170.42L469.9 290.65L469.86 171.49L469.96 298.2L470.3 173.29L470.4 290.82L470.76 179.28L470.86 289.52L470.8 179.44L470.9 289.24L471.3 174.38L471.4 280.99L471.8 177.36L471.9 280.06L472.23 173.18L472.33 275.95L472.3 174.67L472.4 281.45L472.67 174.11L472.77 281.9L472.8 172.08L472.9 276.27L473.3 171.12L473.4 287.82L473.8 172.46L473.9 288.9L473.81 162.68L473.91 297.14L473.92 161.35L474.02 296.64L474.3 164.53L474.4 302.77L474.8 162.85L474.9 310.71L474.95 159.22L475.05 314.29L475.3 160.55L475.4 309.4L475.8 148.55L475.9 295.49L476.1 151.91L476.2 300.95L476.28 142.09L476.38 299.67L476.3 147.37L476.4 299.79L476.8 154.4L476.9 297.43L477.3 152.63L477.4 285.65L477.62 154.63L477.72 293.33L477.64 154.59L477.74 287.72L477.8 164.16L477.9 292L478.3 164.23L478.4 293.79L478.8 162.46L478.9 294.42L478.99 161.35L479.09 290.06L479.3 167.87L479.4 296.67L479.52 177.14L479.62 297.14L479.8 181.32L479.9 288.46L480.3 190.95L480.4 283.73L480.68 195.14L480.78 277.98L480.8 192.81L480.9 272.81L481.3 185.13L481.4 265.67L481.43 179.77L481.53 266.67L481.8 174.57L481.9 275.15L482.3 158.77L482.4 286.91L482.36 154.59L482.46 283.14L482.57 157.32L482.67 297.14L482.8 156.15L482.9 293.94L483.3 156.51L483.4 308.39L483.33 155.53L483.43 316.19L483.8 139.01L483.9 326.2L484.05 136.01L484.15 330.36L484.3 132.02L484.4 341.91L484.48 135.24L484.58 354.29L484.8 121.6L484.9 362.34L485.07 110.68L485.17 367.88L485.24 114.1L485.34 377.14L485.3 113.87L485.4 372.8L485.8 108.92L485.9 371.29L486 103.89L486.1 396.19L486.08 91.08L486.18 381.51L486.3 102.57L486.4 383.39L486.76 121.71L486.86 365.71L486.8 116.01L486.9 352.45L487.09 120.81L487.19 348.27L487.3 130.83L487.4 328.04L487.8 143.57L487.9 315.89L487.9 139.75L488 316.19L488.11 144.46L488.21 314.26L488.3 148.71L488.4 311.46L488.8 157.74L488.9 302.77L489.05 158.78L489.15 306.67L489.3 168.14L489.4 305.03L489.8 178.04L489.9 302.87L490.14 174.86L490.24 295.67L490.19 174.97L490.29 300.95L490.3 178.67L490.4 297.57L490.8 172.91L490.9 292.19L491.3 178.76L491.4 290.34L491.8 169.34L491.9 289.25L492.3 169.34L492.4 291.86L492.5 166.42L492.6 299.3L492.8 168.11L492.9 298.45L492.86 169.75L492.96 299.05L493.3 171.25L493.4 288L493.8 177.63L493.9 296.78L494.3 182.97L494.4 292.09L494.8 178.17L494.9 292.31L494.86 176.55L494.96 292.08L495.3 173.5L495.4 292.4L495.52 175.39L495.62 293.33L495.8 171.76L495.9 293.07L496.3 166.52L496.4 295.57L496.8 169.13L496.9 293.16L497.3 164.38L497.4 295.98L497.57 154.59L497.67 293.44L497.8 157.16L497.9 295.15L497.81 164.21L497.91 300.95L498.3 168.36L498.4 299.67L498.8 163.65L498.9 293.33L499.3 168.78L499.4 301.13L499.71 171.63L499.81 304.76L499.8 168.06L499.9 297.44L499.93 161.35L500.03 305.28L500.3 156.48L500.4 310.52L500.8 149.91L500.9 315.45L500.86 152.6L500.96 323.81L500.95 144.46L501.05 320.64L501.3 140.77L501.4 337.26L501.62 136.68L501.72 347.81L501.8 129.71L501.9 333.33L501.96 126.89L502.06 320.74L502.3 138.49L502.4 311.04L502.38 146.42L502.48 323.81L502.8 145.82L502.9 316.05L502.97 147.84L503.07 308.96L503.3 158.12L503.4 304.83L503.52 157.25L503.62 304.76L503.8 157.08L503.9 292.65L504.3 163.95L504.4 285.96L504.32 161.35L504.42 287.32L504.67 164.67L504.77 285.71L504.8 165.03L504.9 279.32L505.3 171.45L505.4 269.26L505.43 170.35L505.53 270.48L505.8 178.61L505.9 274.09L506.3 181.97L506.4 286.36L506.57 185.21L506.67 304.76L506.69 178.24L506.79 307.29L506.8 181.08L506.9 306.59L507.3 169.88L507.4 312.75L507.71 170.95L507.81 333.33L507.8 168.43L507.9 324.77L508.3 161.97L508.4 327.27L508.72 147.84L508.82 321.95L508.8 157.58L508.9 318.75L508.86 149.5L508.96 321.9L509.3 153.23L509.4 315.75L509.8 149.12L509.9 315.66L510 145.99L510.1 316.19L510.3 144.82L510.4 316.64L510.8 141.28L510.9 320.67L511.08 139.39L511.18 315.91L511.3 141.42L511.4 322.58L511.52 140.91L511.62 331.43L511.8 147.18L511.9 333.23L512.3 141.12L512.4 332.8L512.67 139.15L512.77 345.9L512.8 145.16L512.9 340.22L513.11 127.57L513.21 326.25L513.3 135.34L513.4 323.93L513.8 134.92L513.9 314.52L513.81 138.36L513.91 316.19L514.12 137.7L514.22 304.97L514.3 138.67L514.4 308.74L514.57 148.84L514.67 304.76L514.8 151.63L514.9 301.99L515.14 141.08L515.24 293.34L515.3 150.48L515.4 302.2L515.8 141.85L515.9 298.37L516.3 138.01L516.4 298.06L516.8 137.75L516.9 291.14L516.82 131.96L516.92 289.45L516.86 135.15L516.96 297.14L517.3 141.87L517.4 288.59L517.8 160.33L517.9 290.95L517.84 147.84L517.94 296.07L518.3 167.45L518.4 287.8L518.38 230.5" fill="none" stroke="#1f77b4" stroke-width="1.6" stroke-linejoin="round" stroke-linecap="square"/>
<path d="M85.28 414.2v3.75M171.9 414.2v3.75M258.52 414.2v3.75M345.14 414.2v3.75M431.76 414.2v3.75M518.38 414.2v3.75M64.35 404.6h-3.75M64.35 361.07h-3.75M64.35 317.55h-3.75M64.35 274.02h-3.75M64.35 230.5h-3.75M64.35 186.97h-3.75M64.35 143.45h-3.75M64.35 99.93h-3.75M64.35 56.4h-3.75" stroke="#000" stroke-width="0.86" fill="none"/>
<rect x="64.35" y="25.5" width="475.65" height="388.7" fill="none" stroke="#000" stroke-width="0.86"/>
<path d="M618.52 25.5V414.25M699.1 25.5V414.25M779.68 25.5V414.25M860.26 25.5V414.25M940.84 25.5V414.25M1021.42 25.5V414.25M597.5 376.18H1073.5M597.5 313.14H1073.5M597.5 250.1H1073.5M597.5 187.06H1073.5M597.5 124.02H1073.5M597.5 60.98H1073.5" stroke="#b0b0b0" stroke-width="0.86" fill="none"/>
<path clip-path="url(#c2)" d="M595.5 212.4L618.52 212.4L642.78 212.66L656.97 187.83L667.03 205.87L674.84 202.21L681.22 210.05L686.62 221.81L691.29 198.02L695.41 238.54L699.1 241.41L702.44 185.74L705.48 193.58L708.28 201.42L710.87 202.21L713.29 199.59L715.55 204.04L717.67 204.04L719.67 181.82L721.56 225.73L723.36 192.27L725.06 191.75L726.69 204.04L728.25 189.66L729.74 196.19L731.17 213.97L732.54 172.67L733.86 172.67L735.13 183.13L736.36 158.3L737.55 186.52L738.69 173.98L739.8 166.14L740.88 160.91L741.93 166.14L742.94 176.63L743.93 169.7L744.89 168.03L745.82 178.29L746.73 162.57L747.61 166L748.48 172.59L749.32 176.15L750.14 161.41L750.95 160.46L751.74 148.78L752.51 161.65L753.26 159.64L753.99 155.05L754.72 170.75L755.42 147.53L756.12 154.66L756.8 158.18L757.46 146.28L758.12 156.02L758.76 144.01L759.39 164.76L760.01 187.41L760.62 154.11L761.22 157.92L761.8 149.73L762.38 161.46L762.95 137.01L763.51 143.08L764.06 166.39L764.6 156.17L765.14 145.04L765.67 168.29L766.18 145.47L766.69 156.35L767.2 164.84L767.69 207.26L768.18 162.23L768.67 141.73L769.14 161.19L769.61 223.64L770.08 161.3L770.53 155.97L770.98 151.74L771.43 136.52L771.87 143.78L772.31 154.45L772.74 168.74L773.16 160.65L773.58 130.96L773.99 188.68L774.4 138.65L774.81 165.06L775.21 126.49L775.6 133.12L775.99 142.97L776.38 153.77L776.76 154.1L777.14 163.56L777.51 160.38L777.88 137.77L778.25 140.42L778.61 149.96L778.97 161.31L779.33 140.78L779.68 132.76L780.03 163.72L780.37 143.14L780.71 133.61L781.05 165.65L781.39 129L781.72 156.79L782.05 161.44L782.37 166.2L782.7 151.76L783.02 135.27L783.33 143.27L783.65 130.14L783.96 124.74L784.27 150.47L784.57 153.46L784.87 129.56L785.17 132.02L785.47 151.94L785.77 149.37L786.06 154.05L786.35 136.52L786.64 165.37L786.92 164.05L787.21 152.4L787.49 157.41L787.77 141.06L788.04 143.74L788.32 148.89L788.59 193.4L788.86 145.41L789.13 138.27L789.4 139.84L789.66 160.96L789.92 147L790.18 161.16L790.44 151.79L790.7 142.93L790.95 140.31L791.2 143.5L791.45 137.77L791.7 153.84L791.95 160.1L792.2 136.07L792.44 160.54L792.68 156.6L792.92 152.5L793.16 163.96L793.4 136.51L793.64 142.72L793.87 159.02L794.1 131.5L794.33 162.72L794.56 142.65L794.79 155.82L795.02 164.96L795.24 160.82L795.47 144.13L795.69 141.44L795.91 152L796.13 141.08L796.35 150.89L796.56 130.25L796.78 152.46L796.99 149.76L797.2 134.05L797.42 161.03L797.63 162.52L797.84 145.3L798.04 134.27L798.25 136.14L798.45 142.12L798.66 163.78L798.86 139.9L799.06 135.26L799.26 160.39L799.46 149.16L799.66 164.62L799.86 138.87L800.05 140.88L800.25 138.14L800.44 139.08L800.64 154.84L800.83 137.61L801.02 155.31L801.21 159.95L801.4 149.74L801.58 130.25L801.77 153.5L801.96 141.98L802.14 141.97L802.33 155.24L802.51 141.07L802.69 150.43L802.87 137.14L803.05 152.97L803.23 134.8L803.41 147.95L803.59 142.81L803.76 138.53L803.94 143.87L804.11 127.74L804.29 127.96L804.46 161.87L804.63 150.9L804.8 141.92L804.97 166.24L805.14 183L805.31 132.33L805.48 132.63L805.64 137.73L805.81 124.74L805.98 133.63L806.14 151.79L806.3 138.31L806.47 150.43L806.63 135.31L806.79 149.04L806.95 159.44L807.11 132.27L807.27 138.74L807.43 137.29L807.59 143.84L807.75 130.25L807.9 148.2L808.06 144.12L808.21 164.99L808.37 144.61L808.52 136.23L808.68 139.74L808.83 136.72L808.98 146.89L809.13 134.46L809.28 162.76L809.43 134.78L809.58 151.63L809.73 163.78L809.88 143.06L810.02 148.74L810.17 149.74L810.32 131.5L810.46 161.76L810.61 144.27L810.75 151.38L810.9 147.95L811.04 149.26L811.18 162.75L811.32 149.64L811.46 140.18L811.61 161.74L811.75 169.52L811.89 166.42L812.02 153.04L812.16 140.25L812.3 167.84L812.44 208.52L812.58 152.34L812.71 164.94L812.85 156.04L812.98 162.3L813.12 149.52L813.25 153.87L813.39 160.54L813.52 145.04L813.65 146.97L813.79 148.19L813.92 155.5L814.05 155.78L814.18 269L814.31 139.43L814.44 166.2L814.57 162.51L814.7 154.55L814.83 149.09L814.95 166.08L815.25 130.91L815.35 163.88L815.31 130.25L815.41 166.87L815.75 131.25L815.85 166.51L816.25 133.41L816.35 154.32L816.7 130.45L816.8 163.47L816.75 125.99L816.85 150.1L817.25 124.54L817.35 164.65L817.75 126.37L817.85 158.01L817.82 122.73L817.92 165.84L818.25 132.28L818.35 154.91L818.75 123.15L818.85 163.05L819.25 130.68L819.35 163.95L819.75 131L819.85 180.37L820.1 120.7L820.2 183L820.25 126.15L820.35 176.13L820.75 118.13L820.85 160.1L821.25 114.41L821.35 152.67L821.58 112.71L821.68 168.84L821.75 113.09L821.85 168.15L822.25 119.21L822.35 149.29L822.75 120.73L822.85 139.86L823.25 121.47L823.35 139.25L823.5 115.99L823.6 152.45L823.75 113.8L823.85 140.63L824.25 121.9L824.35 156.95L824.75 122.1L824.85 159.81L825.25 124.23L825.35 154L825.34 113.96L825.44 155.76L825.75 119.86L825.85 149.15L826.25 115.71L826.35 166.71L826.75 113.37L826.85 164.53L827.25 113.94L827.35 147.97L827.4 120.07L827.5 176.07L827.75 113.68L827.85 166.96L828.25 117.81L828.35 157.87L828.75 114.24L828.85 141.57L829.1 109.7L829.2 161.19L829.25 119.42L829.35 148.88L829.75 107.34L829.85 152.18L830.25 107.72L830.35 148.68L830.4 104.2L830.5 152.45L830.75 112.01L830.85 149.4L830.85 101.43L830.95 147.46L831.25 104.49L831.35 156.09L831.75 104.01L831.85 158.07L832.25 110.36L832.35 158.54L832.75 108.67L832.85 154L832.86 105.19L832.96 166.94L833.25 99.28L833.35 176.15L833.75 96.24L833.85 150.03L834.25 93.52L834.35 192.19L834.3 91.3L834.4 195.6L834.61 78.37L834.71 150.35L834.75 99.07L834.85 184.9L835.25 105.39L835.35 182.92L835.75 107.99L835.85 171.65L836.12 102.68L836.22 169.63L836.25 107.76L836.35 167.93L836.75 105.75L836.85 146.56L837.25 105.49L837.35 158.95L837.3 102.77L837.4 161.9L837.75 110.62L837.85 160.82L837.87 102.68L837.97 139.62L838.25 100.84L838.35 157.33L838.75 102.17L838.85 159.95L839.25 103.55L839.35 146.7L839.75 97.12L839.85 139.64L840.25 93.83L840.35 157.99L840.38 90.15L840.48 145.46L840.7 91.08L840.8 170.41L840.75 90.17L840.85 163.92L841.25 96.36L841.35 154.74L841.75 95.25L841.85 163.33L842.25 100.43L842.35 160.7L842.75 93.46L842.85 160.73L842.88 90.15L842.98 158.78L843 89.65L843.1 161.9L843.25 88.55L843.35 141.35L843.75 92.33L843.85 163.96L844.25 85.47L844.35 160.6L844.75 82L844.85 147.45L845.25 80.18L845.35 141.18L845.3 82.7L845.4 171.35L845.39 78.87L845.49 147.89L845.75 85.18L845.85 165.11L846.25 90.89L846.35 141.77L846.75 82.48L846.85 137.97L847.25 80.8L847.35 152.58L847.75 85.36L847.85 154.55L847.89 80.13L847.99 156.79L848.25 83.9L848.35 140.42L848.7 84.45L848.8 152.45L848.75 85.26L848.85 152.6L849.25 84.31L849.35 144L849.75 90.01L849.85 129.65L850.25 92.3L850.35 157.06L850.4 87.64L850.5 156.42L850.75 94.4L850.85 158.36L851.25 81.64L851.35 151.38L851.75 80.85L851.85 153.95L852.25 73.09L852.35 132.47L852.75 65.57L852.85 164.22L852.91 62.58L853.01 162.04L853.25 77.2L853.35 130.28L853.75 88.39L853.85 167.73L854.16 83.88L854.26 165.06L854.25 92.64L854.35 161.33L854.4 79.9L854.5 169.77L854.75 72.71L854.85 162.12L855.25 64.37L855.35 145.71L855.41 60.08L855.51 143.61L855.75 66.4L855.85 141.8L856.25 60.54L856.35 136.55L856.67 55.06L856.77 135.7L856.75 63.67L856.85 153.26L857.25 56.45L857.35 130.78L857.75 63.54L857.85 131.31L857.8 57.45L857.9 146.15L857.92 57.57L858.02 138.66L858.25 64.02L858.35 148.11L858.75 62.6L858.85 125.43L859.17 54.31L859.27 158.15L859.25 58.03L859.35 162.44L859.75 75.76L859.85 142.04L860 73.13L860.1 174.5L860.25 76.57L860.35 148.54L860.43 80.13L860.53 162.68L860.43 80.16L860.53 185.04L860.75 94.57L860.85 173.11L861.25 95.41L861.35 171.25L861.68 102.68L861.78 171.01L861.75 103.08L861.85 155.52L862.03 101.57L862.13 185.04L862.25 102.78L862.35 164.47L862.75 96.06L862.85 191.46L862.93 92.66L863.03 190.46L863.03 92.01L863.13 194.06L863.25 92.29L863.35 189.4L863.75 84.2L863.85 178.99L864.19 79.62L864.29 155.64L864.25 91.21L864.35 170.98L864.44 83.12L864.54 192.06L864.75 85.09L864.85 173.99L865.25 94.16L865.35 164.78L865.44 87.64L865.54 170.38L865.64 89.07L865.74 215.71L865.75 89.53L865.85 211.17L866.25 91.91L866.35 195.84L866.75 90.18L866.85 188.39L866.84 86.95L866.94 188.05L867.19 79.62L867.29 158.48L867.25 80.98L867.35 185.37L867.75 91.35L867.85 185.23L868.05 92.68L868.15 185.04L868.25 96.86L868.35 166.27L868.75 98.67L868.85 163.4L869.2 95.16L869.3 175.55L869.25 95.56L869.35 169.4L869.75 102.51L869.85 157.46L870.05 99.56L870.15 184.04L870.25 97.84L870.35 181.75L870.75 98.14L870.85 162.58L870.95 92.66L871.05 159.1L871.25 93.42L871.35 152.16L871.75 93.69L871.85 166.2L872.06 91.69L872.16 171L872.25 93.45L872.35 165.01L872.75 95.16L872.85 173.53L872.96 85.64L873.06 175.27L873.25 90.94L873.35 163.97L873.26 90.88L873.36 186.04L873.75 103.2L873.85 181.85L874.25 101.25L874.35 196.01L874.46 109.14L874.56 220.53L874.75 103.52L874.85 213.8L875.25 111.01L875.35 196.54L875.46 110.2L875.56 177.57L875.66 115.68L875.76 194.06L875.75 116.22L875.85 176.47L876.25 107.98L876.35 183.58L876.75 110.13L876.85 179.21L877.07 109.24L877.17 199.07L877.25 104.49L877.35 180.76L877.75 108.77L877.85 170.11L877.97 101.43L878.07 163.65L878.25 106.96L878.35 169L878.75 95.73L878.85 160.92L879.07 95.45L879.17 174.01L879.25 92.52L879.35 175.63L879.75 91.56L879.85 157.43L879.97 85.14L880.07 180.1L880.25 85.97L880.35 181.24L880.75 79.36L880.85 189.18L881.08 78.12L881.18 193.66L881.25 74.89L881.35 189.99L881.73 67.59L881.83 159.02L881.75 70.72L881.85 175.44L882.08 68.39L882.18 173.01L882.25 65.29L882.35 150.2L882.75 61.86L882.85 166.34L883.08 69.28L883.18 190.05L883.25 59.07L883.35 176.2L883.75 64.19L883.85 171.71L883.76 53.31L883.86 179.43L884.09 73.09L884.19 207.09L884.25 64.65L884.35 205.35L884.75 84.73L884.85 174.38L885.01 80.13L885.11 183.6L885.25 89.72L885.35 194.53L885.75 101.94L885.85 180.86L886.09 109.27L886.19 186.04L886.25 110.64L886.35 184.28L886.27 108.95L886.37 171.44L886.75 111.15L886.85 187.87L887.25 111.92L887.35 191.81L887.49 116.51L887.59 194.06L887.75 115.72L887.85 193.08L888.25 121.2L888.35 184.93L888.75 117.42L888.85 195.64L888.77 116.47L888.87 205.56L889.25 115.56L889.35 205.58L889.7 106.51L889.8 215.11L889.75 106.46L889.85 199.58L890.25 88.09L890.35 187.31L890.75 78.32L890.85 200.5L890.78 77.12L890.88 191.96L891.25 81.31L891.35 191.86L891.5 80.79L891.6 191.05L891.75 82.09L891.85 178.1L892.25 83.87L892.35 173.69L892.53 85.14L892.63 194.88L892.75 87.74L892.85 190.64L893.25 91.78L893.35 199.08L893.71 91.46L893.81 205.69L893.75 94.59L893.85 194.93L893.78 88.9L893.88 203.53L894.25 91.82L894.35 186.89L894.75 93.86L894.85 179.71L895.25 92.04L895.35 184.42L895.71 93.75L895.81 179.02L895.75 93.51L895.85 178.13L896.25 95L896.35 174.44L896.29 93.91L896.39 183.49L896.75 93.75L896.85 181.14L897.25 88.34L897.35 187.23L897.52 86.36L897.62 200.08L897.75 89.41L897.85 196.17L898.05 80.88L898.15 180.46L898.25 82.83L898.35 189.63L898.75 87.67L898.85 177.39L899.12 96.49L899.22 185.04L899.25 95.7L899.35 182.38L899.55 95.16L899.65 181.51L899.75 102.69L899.85 190.32L900.25 99.88L900.35 189.13L900.73 108.3L900.83 205.69L900.75 102.89L900.85 195.28L901.25 107.4L901.35 192.78L901.3 105.19L901.4 187.03L901.75 104.92L901.85 193.68L902.25 95.22L902.35 190.41L902.53 93.45L902.63 191.05L902.75 88.72L902.85 184.01L903.06 85.14L903.16 183.5L903.25 90.11L903.35 176.97L903.73 84.38L903.83 183.03L903.75 81.19L903.85 167.6L904.25 78.38L904.35 177.51L904.31 72.11L904.41 180.65L904.75 79.66L904.85 192.77L905.14 91.26L905.24 200.08L905.25 87.35L905.35 184.55L905.75 92.26L905.85 190.72L905.81 92.66L905.91 188.01L906.25 94.95L906.35 204.68L906.75 94.53L906.85 195.82L907.07 88.9L907.17 193.69L907.14 81.94L907.24 209.1L907.25 76.69L907.35 208.79L907.57 42.03L907.67 199.46L907.75 64.66L907.85 207.07L908.07 88.9L908.17 209.68L908.25 91.99L908.35 192.72L908.55 95.1L908.65 210.1L908.75 89.52L908.85 204.74L909.25 97.08L909.35 211.11L909.75 92.2L909.85 234.76L909.75 97.52L909.85 228.08L910.08 89.4L910.18 228.47L910.25 95.05L910.35 223.32L910.75 100.09L910.85 211.18L911.25 101.08L911.35 201.8L911.55 101.81L911.65 204.09L911.75 106.37L911.85 204.54L912.08 101.43L912.18 203.98L912.25 101.48L912.35 206.75L912.75 103.78L912.85 195.27L913.25 107.37L913.35 211.75L913.75 104.14L913.85 211.96L913.76 100.98L913.86 216.12L914.25 99.36L914.35 214.9L914.75 100.97L914.85 211.73L914.96 101.02L915.06 218.12L915.09 98.17L915.19 219.91L915.25 102.73L915.35 204.84L915.75 101.29L915.85 222.8L916.17 108.79L916.27 236.77L916.25 102.84L916.35 215.79L916.75 103.13L916.85 231.62L917.25 105.97L917.35 217.7L917.59 105.19L917.69 221.15L917.75 105.55L917.85 223.85L918.17 105.78L918.27 223.13L918.25 111.66L918.35 217.04L918.75 105.64L918.85 216.55L919.25 109.5L919.35 215.85L919.75 103.11L919.85 210.96L920.1 102.68L920.2 208.95L920.25 105.02L920.35 203.51L920.58 107.98L920.68 211.1L920.75 113.67L920.85 213.37L921.25 121.2L921.35 208.11L921.35 115.21L921.45 221.56L921.38 119.76L921.48 222.13L921.75 120.32L921.85 231.15L922.18 120.17L922.28 257.62L922.25 114.07L922.35 252.98L922.75 107.69L922.85 216.48L922.98 112L923.08 222.13L923.11 105.19L923.21 220.75L923.25 106.34L923.35 212.38L923.75 106.97L923.85 219.21L924.19 103.62L924.29 219.12L924.25 103.49L924.35 209.92L924.75 103.8L924.85 221.07L925.11 102.18L925.21 210.65L925.25 107.65L925.35 219.33L925.75 110.82L925.85 208.45L926.25 110.03L926.35 228.64L926.75 112.3L926.85 230.63L926.79 108.97L926.89 231.15L927.12 105.19L927.22 227.13L927.25 108.78L927.35 224.13L927.75 104.92L927.85 209.83L928.2 104.54L928.3 223.13L928.25 109.61L928.35 223.29L928.75 104.76L928.85 225.46L928.87 103.93L928.97 219.67L929.25 109.33L929.35 216.75L929.75 110.52L929.85 220.13L930.2 117.25L930.3 234.56L930.25 116.6L930.35 232.4L930.75 118.17L930.85 230.51L931.25 122.7L931.35 226.59L931.38 122.73L931.48 226.05L931.75 118.78L931.85 210.99L932.21 115.09L932.31 222.13L932.25 110.6L932.35 221.51L932.75 105.14L932.85 212.49L932.88 100.93L932.98 215.81L933.25 109.31L933.35 220.33L933.75 104.14L933.85 202.63L934.25 105.69L934.35 203.08L934.75 107.82L934.85 215.92L935.21 109.5L935.31 217.12L935.25 109.36L935.35 212.63L935.64 110.2L935.74 210.13L935.75 110.66L935.85 210.94L936.25 109.75L936.35 211.01L936.75 110.47L936.85 218.6L937.25 110.99L937.35 224.44L937.62 107.96L937.72 226.74L937.75 106.52L937.85 220.87L938.15 105.19L938.25 217.8L938.25 106.14L938.35 210.49L938.75 105.33L938.85 208.53L939.25 106.86L939.35 197.74L939.75 109.75L939.85 206.39L940.15 103.93L940.25 199.26L940.23 104.91L940.33 206.09L940.25 104.48L940.35 205.75L940.75 107.05L940.85 207.01L941.25 111.32L941.35 209.23L941.75 113.37L941.85 209.54L942.16 113.96L942.26 214.31L942.23 113.69L942.33 216.12L942.25 114.27L942.35 212.22L942.75 114.46L942.85 213.75L943.25 110.75L943.35 204.24L943.75 107.58L943.85 207.38L943.91 103.93L944.01 208.18L944.24 106.49L944.34 220.13L944.25 106.95L944.35 209.8L944.75 112.85L944.85 218.51L945.16 112.71L945.26 206.52L945.25 118.69L945.35 221.77L945.44 116.95L945.54 222.13L945.75 110.45L945.85 222.99L946.25 107.76L946.35 232.44L946.64 103.66L946.74 242.58L946.75 97.68L946.85 235.85L947.17 93.16L947.27 217.33L947.25 94.98L947.35 217.74L947.75 97.24L947.85 211.89L947.84 96.36L947.94 222.13L948.25 97.49L948.35 216.22L948.65 105.14L948.75 220.13L948.75 104.11L948.85 208.28L948.92 100.18L949.02 217.6L949.25 102.27L949.35 211.05L949.75 104.5L949.85 209.7L950.18 103.93L950.28 195.07L950.25 106.55L950.35 192.95L950.25 108.51L950.35 206.09L950.75 105.51L950.85 198.07L951.25 104.64L951.35 214.99L951.75 96.14L951.85 210.39L952.18 92.66L952.28 223.27L952.25 92.57L952.35 220.71L952.26 95.47L952.36 226.14L952.75 89.14L952.85 217.33L953.25 88.73L953.35 214.28L953.75 85.34L953.85 202.45L953.93 80.88L954.03 195.64L954.25 82.96L954.35 187.27L954.26 86.03L954.36 205.09L954.75 84.8L954.85 209.06L955.25 85.05L955.35 217.13L955.46 83.5L955.56 220.13L955.75 84.95L955.85 227.37L955.94 83.88L956.04 229.93L956.25 91.8L956.35 226.45L956.27 84.51L956.37 240.58L956.75 87.37L956.85 217.52L957.07 85.49L957.17 220.13L957.25 78.24L957.35 217.72L957.75 76.12L957.85 211.92L957.87 79.45L957.97 218.12L957.94 73.86L958.04 213.09L958.25 83.59L958.35 221.23L958.75 79.05L958.85 218.24L959.07 84.14L959.17 230.15L959.25 84.85L959.35 238.65L959.75 82L959.85 262.19L959.87 90.74L959.97 268.65L960.2 82.63L960.3 250.66L960.25 83.26L960.35 249.81L960.68 85.12L960.78 234.16L960.75 88.19L960.85 231.14L961.25 92.5L961.35 217.38L961.75 91.67L961.85 227.96L961.88 98.06L961.98 238.17L962.25 94.12L962.35 234.94L962.71 95.16L962.81 236.19L962.75 94.94L962.85 228.9L962.88 95.24L962.98 236.17L963.25 92.34L963.35 243.47L963.75 91.64L963.85 253.79L963.88 89.9L963.98 256.62L964.25 87.91L964.35 244.08L964.75 89.61L964.85 232.55L964.89 85.46L964.99 230.15L965.21 79.37L965.31 213.76L965.25 81.71L965.35 208.47L965.75 87.52L965.85 215.58L965.89 84.69L965.99 223.13L966.25 88.45L966.35 214.19L966.75 92.23L966.85 227L967.25 90.42L967.35 223.2L967.29 88.83L967.39 234.16L967.72 87.64L967.82 221.35L967.75 95.17L967.85 212.21L968.25 95.21L968.35 216.82L968.7 97.11L968.8 211.1L968.75 92.91L968.85 198.48L969.25 96.48L969.35 211.13L969.72 96.42L969.82 219.45L969.75 97.16L969.85 217.94L969.9 100.83L970 222.13L970.25 95.91L970.35 212L970.75 90.01L970.85 230.3L970.9 90.11L971 239.17L971.25 85.71L971.35 229.02L971.48 83.88L971.58 213.8L971.75 88.24L971.85 211.79L971.9 82.1L972 228.15L972.25 82.06L972.35 213.98L972.75 84.53L972.85 225.28L973.23 76.37L973.33 227.47L973.25 79.94L973.35 218.6L973.31 82.85L973.41 228.15L973.75 79.18L973.85 217.55L974.25 74.7L974.35 209.29L974.75 80.65L974.85 200.82L975.25 77.62L975.35 192.67L975.31 75.67L975.41 208.1L975.74 71.35L975.84 195.26L975.75 75.09L975.85 204.46L976.25 74.03L976.35 204.63L976.75 72.87L976.85 211.2L976.92 73.08L977.02 218.12L977.25 73.18L977.35 217.73L977.75 74.31L977.85 224.65L978.25 75.37L978.35 212.65L978.32 79.01L978.42 229.15L978.75 78.79L978.85 212.8L979 75.11L979.1 221.99L979.25 81.64L979.35 218.71L979.75 75.61L979.85 206.37L980.25 77.48L980.35 199.03L980.33 75.73L980.43 210.1L980.75 77.87L980.85 202.35L981.25 76.04L981.35 201.51L981.75 76.17L981.85 210.64L982.25 76.47L982.35 206.77L982.33 78.18L982.43 212.11L982.75 81.82L982.85 203.17L982.76 76.37L982.86 208.27L983.25 79.76L983.35 206.48L983.53 74.14L983.63 220.13L983.75 73.65L983.85 206.16L984.25 73.31L984.35 215.51L984.34 70.05L984.44 234.56L984.75 70.97L984.85 216.25L984.76 68.1L984.86 223.03L985.25 76.96L985.35 219.05L985.34 70.93L985.44 218.12L985.75 78.65L985.85 198.49L986.25 78.44L986.35 194.58L986.34 78.91L986.44 206.09L986.52 76.37L986.62 206.27L986.75 83.11L986.85 199.57L987.25 78.51L987.35 196.45L987.75 81.33L987.85 218.45L988.25 82.01L988.35 222.86L988.35 86.17L988.45 224.14L988.75 83.32L988.85 216.44L989.25 88.49L989.35 213.12L989.75 81.65L989.85 227.88L989.95 85.62L990.05 230.15L990.25 85.27L990.35 220.71L990.28 81.38L990.38 231.36L990.75 85.77L990.85 239.11L990.95 84.88L991.05 247.79L991.25 82.55L991.35 226.15L991.75 84.87L991.85 224.95L991.95 80.46L992.05 226.14L992.25 82.81L992.35 213.31L992.75 82.17L992.85 203.63L992.76 80.51L992.86 218.12L993.25 82.98L993.35 220.75L993.75 83.85L993.85 221.28L994.04 78.87L994.14 229.49L994.25 80.88L994.35 220.72L994.36 79.83L994.46 238.17L994.75 85.46L994.85 248.93L995.25 82.19L995.35 270.85L995.29 83.34L995.39 293.88L995.75 86.54L995.85 268.77L996.25 87.54L996.35 262.75L996.54 85.14L996.64 255.04L996.75 94.63L996.85 251.11L997.25 88.2L997.35 243.38L997.75 92.99L997.85 250.2L997.79 89.68L997.89 250.03L998.25 94.26L998.35 241.75L998.3 90.15L998.4 241.53L998.75 94.64L998.85 245L999.25 99.08L999.35 253.13L999.75 103.28L999.85 246.63L999.8 103.71L999.9 257.54L1000.25 107.48L1000.35 250.94L1000.3 102.68L1000.4 255.84L1000.75 102.93L1000.85 261.65L1001.25 103.86L1001.35 256.92L1001.55 104.42L1001.65 267.07L1001.75 107.04L1001.85 246.59L1002.25 105.07L1002.35 257.32L1002.75 104.2L1002.85 254.43L1002.81 102.68L1002.91 250.96L1003.25 104.12L1003.35 252.47L1003.31 100.13L1003.41 252.53L1003.75 100.6L1003.85 234.77L1004.25 99.69L1004.35 241.96L1004.56 92.66L1004.66 250.49L1004.75 94.32L1004.85 240.59L1005.25 98.52L1005.35 259.7L1005.31 105.44L1005.41 263.81L1005.75 99.6L1005.85 263.87L1006.25 107.31L1006.35 261.22L1006.57 103.93L1006.67 248.56L1006.75 109.76L1006.85 257.15L1007.25 111.52L1007.35 261.83L1007.32 110.23L1007.42 270.08L1007.75 116.96L1007.85 261.25L1008.25 117.17L1008.35 263.46L1008.32 117.72L1008.42 267.2L1008.75 127.55L1008.85 267.32L1009.07 126.22L1009.17 275.09L1009.25 129.15L1009.35 271.12L1009.75 133.42L1009.85 270.01L1010.25 142.67L1010.35 282.72L1010.33 135.26L1010.43 285.11L1010.75 138.43L1010.85 273.35L1011.25 141.39L1011.35 288.93L1011.33 145.38L1011.43 290.13L1011.75 146.96L1011.85 288.11L1012.08 142.78L1012.18 313.93L1012.25 140.57L1012.35 305.36L1012.75 138.56L1012.85 274.92L1012.83 135.16L1012.93 290.13L1013.25 127.78L1013.35 272.26L1013.58 127.52L1013.68 285.11L1013.75 123.54L1013.85 284.72L1014.09 116.47L1014.19 282.11L1014.25 117.14L1014.35 264.87L1014.75 117.45L1014.85 279.06L1015.25 113.24L1015.35 276.39L1015.34 114.06L1015.44 281.35L1015.75 118.65L1015.85 277.89L1016.25 111.36L1016.35 254.48L1016.75 107.62L1016.85 261.02L1017.09 105.19L1017.19 259.21L1017.25 113.21L1017.35 268.21L1017.34 112.66L1017.44 267.57L1017.75 110.94L1017.85 250.5L1018.25 114.04L1018.35 258.5L1018.75 112.96L1018.85 260.24L1019.1 112.56L1019.2 258.8L1019.25 110.47L1019.35 258.91L1019.75 109.34L1019.85 255.89L1020.25 114.74L1020.35 247.92L1020.35 109.7L1020.45 262.17L1020.75 119.59L1020.85 258.92L1020.85 113.8L1020.95 263.81L1021.25 121.02L1021.35 259.75L1021.75 117.79L1021.85 257.79L1022.25 126.79L1022.35 258.14L1022.36 127.89L1022.46 265.06L1022.75 122.26L1022.85 257.57L1022.86 122.73L1022.96 265.58L1023.25 132.91L1023.35 274.16L1023.75 135.27L1023.85 266.01L1024.11 133.75L1024.21 290.13L1024.25 130.12L1024.35 290.11L1024.75 132.2L1024.85 275.52L1025.25 135.79L1025.35 290.54L1025.36 135.26L1025.46 300.15L1025.75 142.15L1025.85 292.34L1026.25 139.28L1026.35 286.6L1026.37 142.51L1026.47 285.11L1026.62 137.77L1026.72 281.94L1026.75 137.73L1026.85 280.76L1027.25 138.03L1027.35 264.11L1027.37 131.39L1027.47 282.61L1027.75 128.02L1027.85 283.09L1027.87 125.24L1027.97 280.99L1028.25 125.17L1028.35 281.65L1028.37 127.97L1028.47 287.62L1028.75 123.84L1028.85 285.31L1029.25 126.71L1029.35 289.43L1029.37 123.45L1029.47 298.15L1029.75 128.06L1029.85 287.85L1029.87 121.98L1029.97 280.19L1030.13 125.9L1030.23 288.87L1030.25 127.82L1030.35 287.41L1030.75 136.47L1030.85 279.97L1030.88 140.28L1030.98 287.62L1031.13 137.51L1031.23 287L1031.25 142.97L1031.35 288.19L1031.75 144.01L1031.85 270.46L1032.25 144.38L1032.35 289.51L1032.38 143.25L1032.48 290.13L1032.75 143.53L1032.85 293.63L1033.25 151.44L1033.35 307.14L1033.63 148.18L1033.73 315.19L1033.75 150.96L1033.85 306.83L1034.14 147.53L1034.24 321.47L1034.25 149.64L1034.35 312.27L1034.75 148.09L1034.85 327.02L1034.89 149.98L1034.99 344.01L1035.25 154.09L1035.35 321.25L1035.64 149.95L1035.74 325.21L1035.75 153.34L1035.85 323.53L1036.25 148.74L1036.35 310.45L1036.39 150.57L1036.49 322.71L1036.75 151.01L1036.85 317.12L1037.25 152.32L1037.35 322.36L1037.39 148.78L1037.49 341.5L1037.75 156.42L1037.85 322.93L1038.15 160.74L1038.25 336.49L1038.25 160.37L1038.35 327.32L1038.75 156.18L1038.85 321L1038.9 160.08L1039 335.24L1039.25 160.71L1039.35 338.15L1039.75 165.61L1039.85 342.81L1040.25 164.48L1040.35 344.82L1040.4 165.08L1040.5 349.02L1040.75 168.54L1040.85 340.68L1041.15 175.19L1041.25 335.24L1041.25 167.57L1041.35 319.86L1041.75 171.29L1041.85 332.49L1041.9 172.31L1042 332.73L1042.25 176.79L1042.35 330.9L1042.75 177.38L1042.85 333.64L1042.91 173.03L1043.01 333.98L1043.25 174.79L1043.35 331.36L1043.41 173.85L1043.51 330.14L1043.75 175.31L1043.85 331.97L1044.25 173.04L1044.35 335.96L1044.41 179.09L1044.51 336.49L1044.75 177.28L1044.85 335.39L1045.25 171.39L1045.35 333.07L1045.75 171.9L1045.85 323.35L1045.91 175.67L1046.01 335.24L1046.25 168.13L1046.35 325.14L1046.67 166.33L1046.77 324.39L1046.75 173.5L1046.85 319.2L1047.25 174.03L1047.35 318.94L1047.42 174.4L1047.52 320.2L1047.75 176.32L1047.85 331.24L1048.17 177.32L1048.27 345.26L1048.25 178.48L1048.35 355.24L1048.4 175.97L1048.5 396.26L1048.42 175.1L1048.52 369.5L1048.75 184.95L1048.85 376.6L1049.25 188.32L1049.35 384.21L1049.7 195.7L1049.8 391.53L1049.75 193.74L1049.85 378.68L1049.92 192.64L1050.02 376.85L1050.25 208.2L1050.35 368.58L1050.75 217.63L1050.85 386.75L1050.93 222.72L1051.03 384.8L1051 226.62L1051.1 390.27L1051.25 234.62L1051.35 387.69L1051.68 250.04L1051.78 387.21L1051.75 251.3L1051.85 373.42" fill="none" stroke="#1f77b4" stroke-width="1.6" stroke-linejoin="round" stroke-linecap="square"/>
<path d="M618.52 414.25v3.75M699.1 414.25v3.75M779.68 414.25v3.75M860.26 414.25v3.75M940.84 414.25v3.75M1021.42 414.25v3.75M597.5 376.18h-3.75M597.5 313.14h-3.75M597.5 250.1h-3.75M597.5 187.06h-3.75M597.5 124.02h-3.75M597.5 60.98h-3.75" stroke="#000" stroke-width="0.86" fill="none"/>
<path d="M600.64 414.25v2.5M606.04 414.25v2.5M610.71 414.25v2.5M614.83 414.25v2.5M642.78 414.25v2.5M656.97 414.25v2.5M667.03 414.25v2.5M674.84 414.25v2.5M681.22 414.25v2.5M686.62 414.25v2.5M691.29 414.25v2.5M695.41 414.25v2.5M723.36 414.25v2.5M737.55 414.25v2.5M747.61 414.25v2.5M755.42 414.25v2.5M761.8 414.25v2.5M767.2 414.25v2.5M771.87 414.25v2.5M775.99 414.25v2.5M803.94 414.25v2.5M818.13 414.25v2.5M828.19 414.25v2.5M836 414.25v2.5M842.38 414.25v2.5M847.78 414.25v2.5M852.45 414.25v2.5M856.57 414.25v2.5M884.52 414.25v2.5M898.71 414.25v2.5M908.77 414.25v2.5M916.58 414.25v2.5M922.96 414.25v2.5M928.36 414.25v2.5M933.03 414.25v2.5M937.15 414.25v2.5M965.1 414.25v2.5M979.29 414.25v2.5M989.35 414.25v2.5M997.16 414.25v2.5M1003.54 414.25v2.5M1008.94 414.25v2.5M1013.61 414.25v2.5M1017.73 414.25v2.5M1045.68 414.25v2.5M1059.87 414.25v2.5M1069.93 414.25v2.5" stroke="#000" stroke-width="0.75" fill="none"/>
<rect x="597.5" y="25.5" width="476" height="388.75" fill="none" stroke="#000" stroke-width="0.86"/>
<g font-family="'DejaVu Sans', 'Liberation Sans', sans-serif" font-size="10.7" fill="#000" opacity="0.99" style="font-variant-ligatures:none;font-feature-settings:&quot;liga&quot; 0,&quot;clig&quot; 0;font-kerning:none">
<text x="85.28" y="430.0" text-anchor="middle">0</text>
<text x="171.9" y="430.0" text-anchor="middle">2</text>
<text x="258.52" y="430.0" text-anchor="middle">4</text>
<text x="345.14" y="430.0" text-anchor="middle">6</text>
<text x="431.76" y="430.0" text-anchor="middle">8</text>
<text x="518.38" y="430.0" text-anchor="middle">10</text>
<text x="56.25" y="408.65" text-anchor="end">−1.00</text>
<text x="56.25" y="365.12" text-anchor="end">−0.75</text>
<text x="56.25" y="321.6" text-anchor="end">−0.50</text>
<text x="56.25" y="278.07" text-anchor="end">−0.25</text>
<text x="56.25" y="234.55" text-anchor="end">0.00</text>
<text x="56.25" y="191.03" text-anchor="end">0.25</text>
<text x="56.25" y="147.5" text-anchor="end">0.50</text>
<text x="56.25" y="103.98" text-anchor="end">0.75</text>
<text x="56.25" y="60.45" text-anchor="end">1.00</text>
<text x="589.2" y="380.23" text-anchor="end">−40</text>
<text x="589.2" y="317.19" text-anchor="end">−20</text>
<text x="589.2" y="254.15" text-anchor="end">0</text>
<text x="589.2" y="191.11" text-anchor="end">20</text>
<text x="589.2" y="128.07" text-anchor="end">40</text>
<text x="589.2" y="65.03" text-anchor="end">60</text>
<text x="606.28" y="432.7">10<tspan dy="-3.7" dx="-0.8" font-size="8.13">−1</tspan></text>
<text x="690.18" y="432.7">10<tspan dy="-3.7" dx="-0.8" font-size="8.13">0</tspan></text>
<text x="770.76" y="432.7">10<tspan dy="-3.7" dx="-0.8" font-size="8.13">1</tspan></text>
<text x="851.34" y="432.7">10<tspan dy="-3.7" dx="-0.8" font-size="8.13">2</tspan></text>
<text x="931.92" y="432.7">10<tspan dy="-3.7" dx="-0.8" font-size="8.13">3</tspan></text>
<text x="1012.5" y="432.7">10<tspan dy="-3.7" dx="-0.8" font-size="8.13">4</tspan></text>
<text x="301.78" y="446.0" text-anchor="middle">Time (s)</text>
<text x="834.5" y="448.8" text-anchor="middle">Frequency (Hz)</text>
<text transform="translate(15.6 220.55) rotate(-90)" text-anchor="middle">Amplitude</text>
<text transform="translate(558.6 220.65) rotate(-90)" text-anchor="middle">Magnitude (dB)</text>
</g>
<g font-family="'DejaVu Sans', 'Liberation Sans', sans-serif" font-size="12.92" fill="#000" opacity="0.99" text-anchor="middle" style="font-variant-ligatures:none;font-feature-settings:&quot;liga&quot; 0,&quot;clig&quot; 0;font-kerning:none">
<text transform="translate(301.57 18.6) scale(1 1.07)">Difference Waveform (Apple - Huawei)</text>
<text transform="translate(834.9 18.6) scale(1 1.07)">Difference Spectrum</text>
</g>
<defs><mask id="wm" maskUnits="userSpaceOnUse" x="700" y="385" width="80" height="60"><rect x="700" y="385" width="80" height="60" fill="#fff"/><ellipse cx="743.7" cy="419.7" rx="13.2" ry="11.0" fill="#000"/></mask></defs>
<g opacity="0.32" fill="#000">
<g mask="url(#wm)">
<path fill-rule="evenodd" d="M715.30 410.20a14.5 12.3 0 1 0 29.00 0a14.5 12.3 0 1 0 -29.00 0zM723.00 406.60a1.9 1.9 0 1 0 3.80 0a1.9 1.9 0 1 0 -3.80 0zM732.80 406.60a1.9 1.9 0 1 0 3.80 0a1.9 1.9 0 1 0 -3.80 0z"/>
<path d="M721.0 419.6L720.2 423.9L725.6 421.6z"/>
</g>
<path fill-rule="evenodd" d="M731.50 419.70a12.2 10.0 0 1 0 24.40 0a12.2 10.0 0 1 0 -24.40 0zM738.15 416.50a1.45 1.45 0 1 0 2.90 0a1.45 1.45 0 1 0 -2.90 0zM746.25 416.50a1.45 1.45 0 1 0 2.90 0a1.45 1.45 0 1 0 -2.90 0z"/>
<path d="M747.6 428.0L752.2 431.0L751.4 425.9z"/>
<text x="764.6" y="426.8" font-family="'Liberation Sans', 'Noto Sans CJK SC', sans-serif" font-weight="400" font-size="29" letter-spacing="3" fill-opacity="0.92">公众号</text>
<text x="873.2" y="424.0" font-family="'Noto Sans CJK SC', sans-serif" font-size="23" text-anchor="middle" fill-opacity="0.92">·</text>
<text x="892.1" y="426.9" font-family="'Liberation Sans', 'Noto Sans CJK SC', sans-serif" font-weight="400" font-size="29" letter-spacing="2.15" fill-opacity="0.92">云深之无迹</text>
</g>
</svg>
</body></html>
